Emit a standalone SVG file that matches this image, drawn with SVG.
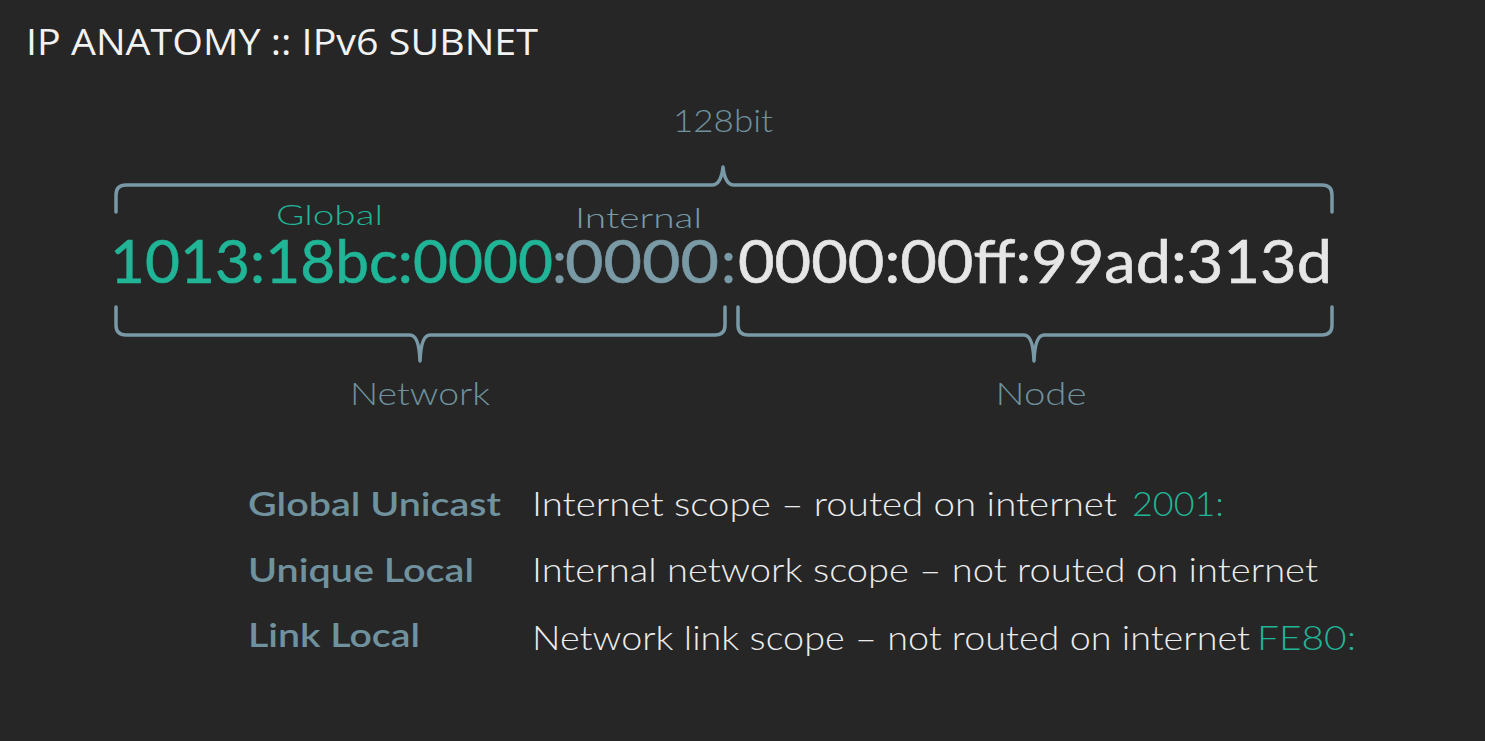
<svg xmlns="http://www.w3.org/2000/svg" width="1485" height="741" viewBox="0 0 1485 741">
<style>
.bg{fill:#262626}
.t{font-family:"Open Sans","Liberation Sans",sans-serif;fill:#f2f2f2}
.f{font-family:Lato,"Noto Sans","Liberation Sans",sans-serif}
.lbl{font-size:31px;fill:#6f929e;font-weight:300}
.sm{font-size:28px}
.teal{fill:#21b597}
.grey{fill:#7a9aa6}
.white{fill:#e6e6e6}
.addr{font-size:60px;font-weight:400;stroke-width:0.6}
.addr.teal{stroke:#21b597}
.addr.grey{stroke:#7a9aa6}
.addr.white{stroke:#e6e6e6}
.kind{font-size:33px;fill:#6f929e;font-weight:600}
.desc{font-size:33px;fill:#ececec;font-weight:300}
.brace{fill:none;stroke:#7899a5;stroke-width:3.5;stroke-linejoin:round;stroke-linecap:round}
</style>
<rect class="bg" width="1485" height="741"/>
<text class="t" x="26" y="55" font-size="37" textLength="512" lengthAdjust="spacingAndGlyphs">IP ANATOMY :: IPv6 SUBNET</text>

<g id="connectors">
<path class="brace" d="M116,212 L116,195 Q116,185 126,185 L712,185 Q721,185 723,167 Q725,185 734,185 L1322,185 Q1332,185 1332,195 L1332,212"/>
<path class="brace" d="M116,307 L116,325 Q116,335 126,335 L410,335 Q419,335 420,361 Q421,335 430,335 L715,335 Q725,335 725,325 L725,307"/>
<path class="brace" d="M738,307 L738,325 Q738,335 748,335 L1024,335 Q1033,335 1034,361 Q1035,335 1044,335 L1322,335 Q1332,335 1332,325 L1332,307"/>
</g>

<g id="bits"><text class="f lbl" x="723" y="132" text-anchor="middle" textLength="100" lengthAdjust="spacingAndGlyphs">128bit</text></g>
<g id="global"><text class="f lbl sm" x="276" y="225" textLength="107" lengthAdjust="spacingAndGlyphs" style="fill:#21b597">Global</text></g>
<g id="internal"><text class="f lbl sm" x="575" y="228" textLength="127" lengthAdjust="spacingAndGlyphs" style="fill:#7a9aa6">Internal</text></g>

<g id="address">
<text class="f addr teal" x="110" y="283" textLength="443" lengthAdjust="spacingAndGlyphs">1013:18bc:0000</text>
<text class="f addr grey" x="552" y="283">:</text>
<text class="f addr grey" x="565" y="283" textLength="154" lengthAdjust="spacingAndGlyphs">0000</text>
<text class="f addr grey" x="721" y="283">:</text>
<text class="f addr white" x="738" y="283" textLength="594" lengthAdjust="spacingAndGlyphs">0000:00ff:99ad:313d</text>
</g>

<g id="network"><text class="f lbl" x="420" y="405" text-anchor="middle" textLength="140" lengthAdjust="spacingAndGlyphs">Network</text></g>
<g id="node"><text class="f lbl" x="1041" y="405" text-anchor="middle" textLength="91" lengthAdjust="spacingAndGlyphs">Node</text></g>

<g id="global-unicast">
<text class="f kind" x="248" y="516" textLength="253" lengthAdjust="spacingAndGlyphs">Global Unicast</text>
<text class="f desc" x="532" y="516" textLength="585" lengthAdjust="spacingAndGlyphs">Internet scope – routed on internet</text>
<text class="f desc" x="1132" y="516" textLength="92" lengthAdjust="spacingAndGlyphs" style="fill:#21b597">2001:</text>
</g>
<g id="unique-local">
<text class="f kind" x="248" y="582" textLength="226" lengthAdjust="spacingAndGlyphs">Unique Local</text>
<text class="f desc" x="532" y="582" textLength="786" lengthAdjust="spacingAndGlyphs">Internal network scope – not routed on internet</text>
</g>
<g id="link-local">
<text class="f kind" x="248" y="647" textLength="172" lengthAdjust="spacingAndGlyphs">Link Local</text>
<text class="f desc" x="532" y="650" textLength="718" lengthAdjust="spacingAndGlyphs">Network link scope – not routed on internet</text>
<text class="f desc" x="1257" y="650" textLength="99" lengthAdjust="spacingAndGlyphs" style="fill:#21b597">FE80:</text>
</g>
</svg>
